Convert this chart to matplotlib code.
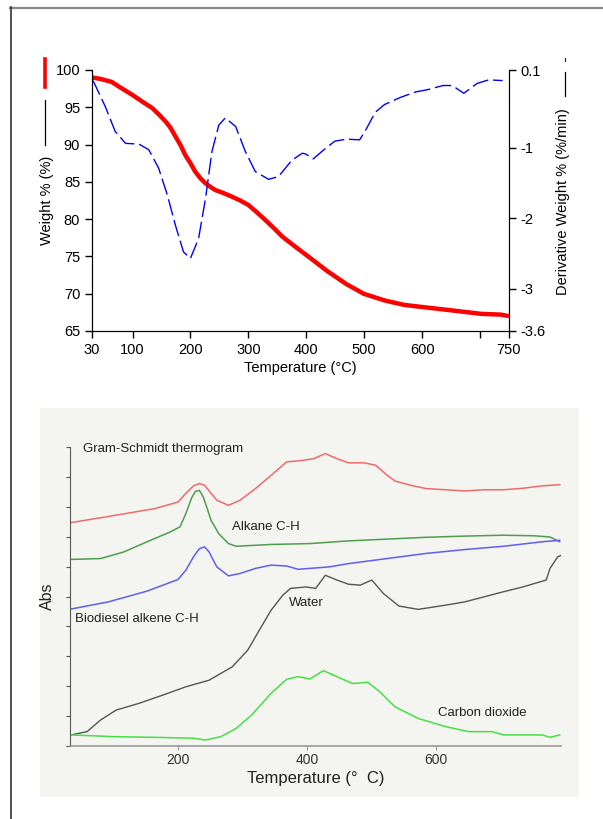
import numpy as np
import matplotlib
matplotlib.use("Agg")
import matplotlib.pyplot as plt
from matplotlib.lines import Line2D
from matplotlib.patches import Rectangle

plt.rcParams['font.family'] = ['Liberation Sans', 'DejaVu Sans']
plt.rcParams['axes.unicode_minus'] = False

# --- TGA: weight loss and derivative ---
tga_temp = [30, 45, 64, 80, 99, 116, 134, 146, 157, 166, 174, 183, 191, 200, 208, 217,
            226, 235, 243, 257, 272, 286, 300, 315, 329, 344, 358, 376, 393, 410, 435,
            469, 499, 535, 569, 602, 636, 669, 702, 735, 750]
tga_weight = [99.0, 98.8, 98.4, 97.6, 96.7, 95.8, 94.9, 94.0, 93.1, 92.2, 91.1, 89.9,
              88.6, 87.5, 86.4, 85.5, 84.8, 84.3, 83.9, 83.5, 83.0, 82.5, 81.9, 80.9,
              79.9, 78.8, 77.7, 76.6, 75.6, 74.6, 73.1, 71.3, 70.0, 69.1, 68.5, 68.2,
              67.9, 67.6, 67.3, 67.2, 67.0]

dtg_temp = [30, 33, 53, 70, 88, 111, 128, 145, 160, 174, 188, 200, 214, 226, 237, 249,
            260, 278, 295, 312, 335, 352, 375, 393, 399, 412, 429, 449, 469, 492, 502,
            519, 535, 562, 589, 609, 636, 652, 672, 695, 715, 739]
dtg_value = [-0.04, -0.07, -0.42, -0.77, -0.94, -0.95, -1.03, -1.29, -1.67, -2.10,
             -2.48, -2.57, -2.29, -1.72, -1.06, -0.68, -0.58, -0.70, -1.06, -1.34,
             -1.45, -1.41, -1.18, -1.08, -1.09, -1.16, -1.04, -0.91, -0.88, -0.89,
             -0.76, -0.50, -0.39, -0.29, -0.21, -0.18, -0.12, -0.12, -0.23, -0.09,
             -0.04, -0.05]

tga_xticks = [30, 100, 200, 300, 400, 500, 600, 700, 750]
tga_xlabels = ['30', '100', '200', '300', '400', '500', '600', '', '750']
weight_ticks = [65, 70, 75, 80, 85, 90, 95, 100]
dtg_ticks = [0.1, -1, -2, -3, -3.6]
dtg_labels = ['0.1', '-1', '-2', '-3', '-3.6']

# --- TGA-FTIR profiles ---
gs_temp = [34, 104, 164, 200, 212, 224, 233, 241, 250, 260, 278, 296, 320, 344, 368,
           392, 410, 428, 446, 464, 488, 506, 524, 536, 560, 584, 614, 644, 674, 704,
           734, 764, 791]
gs_abs = [7.47, 7.72, 7.94, 8.16, 8.45, 8.70, 8.78, 8.72, 8.48, 8.22, 8.05, 8.22, 8.61,
          9.05, 9.50, 9.55, 9.61, 9.78, 9.61, 9.47, 9.47, 9.39, 9.05, 8.86, 8.72, 8.61,
          8.57, 8.53, 8.57, 8.57, 8.62, 8.70, 8.74]

alk_temp = [34, 80, 116, 152, 188, 203, 212, 221, 227, 233, 239, 245, 251, 263, 278,
            290, 344, 404, 464, 524, 584, 644, 704, 752, 776, 791]
alk_abs = [6.24, 6.27, 6.49, 6.83, 7.16, 7.33, 7.77, 8.30, 8.52, 8.55, 8.33, 7.95, 7.55,
           7.10, 6.77, 6.68, 6.74, 6.77, 6.86, 6.92, 6.98, 7.02, 7.05, 7.03, 6.99, 6.83]

alkene_temp = [34, 92, 152, 200, 212, 224, 233, 241, 248, 260, 278, 296, 320, 344, 368,
               386, 404, 434, 464, 524, 584, 644, 704, 764, 791]
alkene_abs = [4.58, 4.82, 5.18, 5.57, 5.88, 6.33, 6.60, 6.66, 6.49, 5.99, 5.69, 5.77,
              5.94, 6.05, 6.02, 5.91, 5.94, 5.99, 6.10, 6.27, 6.44, 6.57, 6.68, 6.83, 6.88]

water_temp = [34, 59, 80, 104, 140, 176, 212, 248, 284, 308, 326, 344, 362, 374, 398,
              413, 428, 446, 464, 482, 500, 518, 542, 572, 614, 644, 674, 704, 734, 770,
              776, 788, 794]
water_abs = [0.37, 0.48, 0.87, 1.20, 1.43, 1.70, 1.98, 2.20, 2.65, 3.21, 3.88, 4.54,
             5.04, 5.27, 5.32, 5.27, 5.71, 5.55, 5.41, 5.38, 5.55, 5.10, 4.68, 4.57,
             4.71, 4.82, 4.99, 5.16, 5.32, 5.55, 5.94, 6.33, 6.38]

co2_temp = [34, 104, 164, 224, 242, 266, 290, 314, 344, 368, 386, 404, 425, 446, 470,
            494, 512, 536, 572, 614, 650, 686, 704, 764, 776, 791]
co2_abs = [0.37, 0.31, 0.29, 0.26, 0.20, 0.31, 0.59, 1.04, 1.76, 2.23, 2.32, 2.24, 2.52,
           2.32, 2.09, 2.13, 1.82, 1.31, 0.92, 0.65, 0.48, 0.48, 0.37, 0.37, 0.29, 0.37]

ftir_xticks = [200, 400, 600]

W, H = 603, 819
fig = plt.figure(figsize=(W / 100, H / 100), dpi=100)


def box(x0, y0, x1, y1):
    # pixel box (top-left origin) -> figure fraction rect
    return [x0 / W, 1 - y1 / H, (x1 - x0) / W, (y1 - y0) / H]


def fx(x):
    return x / W


def fy(y):
    return 1 - y / H


# page frame
fig.add_artist(Line2D([fx(10), fx(603)], [fy(7.5), fy(7.5)], color='#888888', lw=1.6))
fig.add_artist(Line2D([fx(10.5), fx(10.5)], [fy(7), fy(819)], color='#333333', lw=1.2))

# ---------------- top chart ----------------
ax1 = fig.add_axes(box(92, 70, 509, 331))
ax1.plot(tga_temp, tga_weight, color='#ff0000', lw=3.2, solid_capstyle='butt',
         solid_joinstyle='round')
ax1.set_xlim(30, 750)
ax1.set_ylim(65, 100)
ax1.set_xticks(tga_xticks)
ax1.set_xticklabels(tga_xlabels)
ax1.set_yticks(weight_ticks)
ax1.spines['top'].set_visible(False)
ax1.tick_params(direction='out', length=5, width=1, labelsize=10.5, colors='black')
ax1.set_xlabel('Temperature (°C)', fontsize=10.5, labelpad=3)

ax2 = ax1.twinx()
ax2.plot(dtg_temp, dtg_value, color='#0000ff', lw=1.0, linestyle=(0, (12, 3.5)))
ax2.set_ylim(-3.6, 0.1)
ax2.set_yticks(dtg_ticks)
ax2.set_yticklabels(dtg_labels)
ax2.spines['top'].set_visible(False)
ax2.tick_params(direction='out', length=5, width=1, labelsize=10.5)

# axis titles with legend-style line markers
fig.text(fx(47), fy(200), 'Weight % (%)', rotation=90, ha='center', va='center', fontsize=10.5)
fig.add_artist(Line2D([fx(45), fx(45)], [fy(100), fy(145)], color='black', lw=0.9))
fig.add_artist(Line2D([fx(45), fx(45)], [fy(59), fy(87)], color='#ff0000', lw=2.6))

fig.text(fx(563.5), fy(202), 'Derivative Weight % (%/min)', rotation=90,
         ha='center', va='center', fontsize=10.5)
fig.add_artist(Line2D([fx(565), fx(565)], [fy(72), fy(96)], color='black', lw=0.9))
fig.add_artist(Line2D([fx(565), fx(565)], [fy(57.5), fy(61)], color='#333333', lw=0.9))

# ---------------- bottom chart ----------------
fig.add_artist(Rectangle((fx(40), fy(797)), (579 - 40) / W, (797 - 408) / H,
                         transform=fig.transFigure, facecolor='#f4f4f0',
                         edgecolor='none', zorder=0))

ax3 = fig.add_axes(box(69.6, 447, 561, 746))
ax3.patch.set_alpha(0)
ax3.plot(gs_temp, gs_abs, color='#f06a6a', lw=1.1)
ax3.plot(alk_temp, alk_abs, color='#4e9e4e', lw=1.1)
ax3.plot(alkene_temp, alkene_abs, color='#5f5ff2', lw=1.1)
ax3.plot(water_temp, water_abs, color='#555555', lw=1.0)
ax3.plot(co2_temp, co2_abs, color='#45e045', lw=1.1)
ax3.set_xlim(32, 793)
ax3.set_ylim(0, 10)
ax3.set_xticks(ftir_xticks)
ax3.set_yticks(range(0, 11))
ax3.set_yticklabels([])
for s in ['top', 'right']:
    ax3.spines[s].set_visible(False)
ax3.spines['left'].set_color('#555555')
ax3.spines['bottom'].set_color('#999999')
ax3.spines['bottom'].set_linewidth(1.2)
ax3.tick_params(axis='y', direction='out', length=3, color='#555555')
ax3.tick_params(axis='x', direction='out', length=3, color='#999999',
                labelsize=10, labelcolor='#333333', pad=2)
ax3.set_xlabel('Temperature (°  C)', fontsize=12, color='#222222', labelpad=3)
ax3.set_ylabel('Abs', fontsize=11.5, color='#222222', labelpad=4)

lab = dict(fontsize=9.5, color='#222222', va='center', ha='left')
ax3.text(53, 9.94, 'Gram-Schmidt thermogram', **lab)
ax3.text(284, 7.33, 'Alkane C-H', **lab)
ax3.text(41, 4.24, 'Biodiesel alkene C-H', **lab)
ax3.text(371, 4.77, 'Water', **lab)
ax3.text(602, 1.09, 'Carbon dioxide', **lab)

fig.savefig('out.png', dpi=100)
